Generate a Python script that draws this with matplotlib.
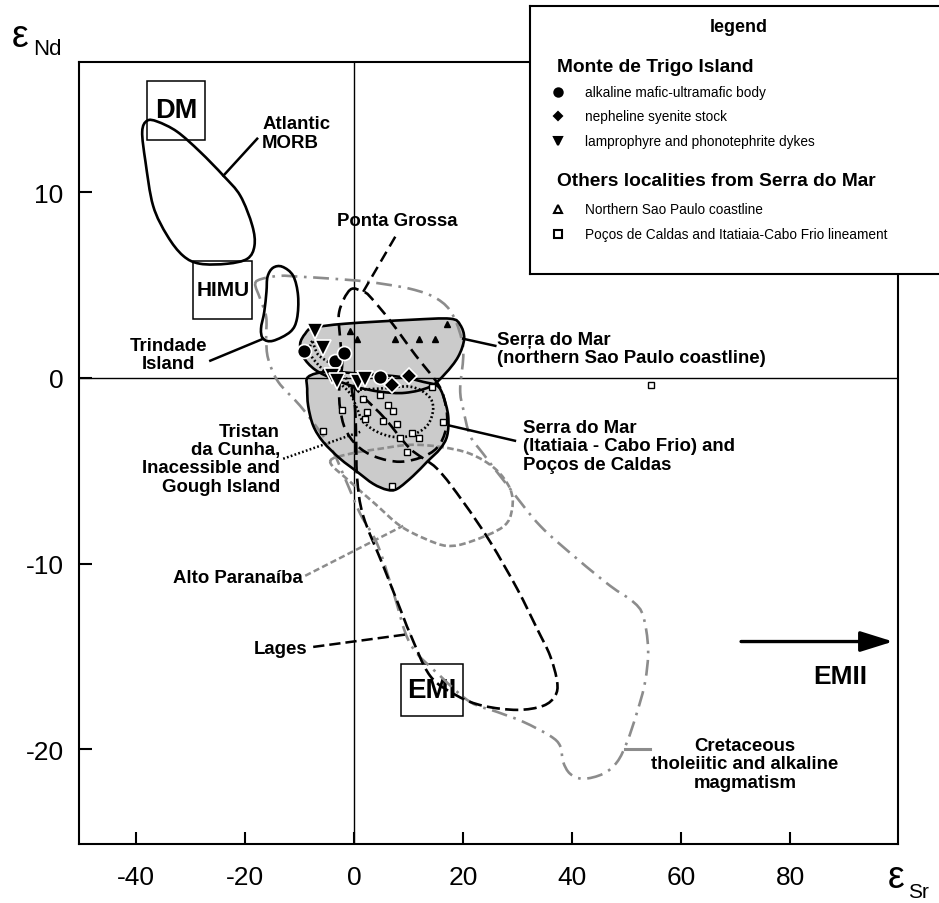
import matplotlib
matplotlib.use("Agg")
import matplotlib.pyplot as plt
import numpy as np
from matplotlib.path import Path
from matplotlib.patches import PathPatch, Rectangle

plt.rcParams['font.family'] = ['Liberation Sans', 'DejaVu Sans']
plt.rcParams['axes.unicode_minus'] = False

# field outlines (eSr, eNd)
morb = [(-38.0, 13.84), (-38.9, 13.25), (-38.3, 11.63), (-36.9, 9.26), (-34.3, 7.65),
        (-31.4, 6.57), (-28.3, 6.14), (-23.3, 6.14), (-19.6, 6.41), (-18.3, 7.11),
        (-18.7, 8.19), (-20.9, 9.80), (-24.0, 10.88), (-28.3, 12.17), (-32.5, 13.25),
        (-36.1, 13.79)]
trindade = [(-13.2, 5.98), (-11.2, 5.49), (-10.3, 4.42), (-10.5, 3.18), (-11.7, 2.48),
            (-14.9, 1.99), (-16.7, 2.10), (-17.1, 2.64), (-16.5, 3.55), (-16.1, 4.63),
            (-15.9, 5.44), (-14.9, 5.92)]
ponta_grossa = [(-0.73, 4.74), (-2.75, 3.55), (-2.57, 2.10), (-2.20, 0.75), (-2.75, -0.59),
                (-2.57, -1.67), (-1.65, -2.75), (0.55, -3.66), (3.85, -4.25), (8.44, -4.52),
                (13.03, -4.20), (15.78, -3.55), (17.06, -2.37), (16.51, -1.13), (15.23, -0.27),
                (11.19, 1.24), (6.61, 3.07), (2.94, 4.36), (1.65, 4.63)]
lages = [(-0.37, -0.48), (0.18, -1.67), (0.37, -3.55), (0.55, -5.44), (1.65, -7.43),
         (5.32, -10.12), (8.44, -12.44), (10.28, -13.79), (13.94, -16.05), (18.90, -17.12),
         (23.67, -17.66), (29.91, -17.88), (34.68, -17.66), (36.88, -17.12), (37.25, -16.37),
         (35.96, -14.97), (33.58, -13.52), (29.91, -11.36), (24.95, -8.83), (20.00, -6.68),
         (15.23, -4.90), (10.28, -3.82), (5.69, -2.21), (2.02, -1.13)]
alto_paranaiba = [(-4.40, -4.52), (-0.73, -4.09), (4.77, -3.82), (10.28, -3.61), (15.78, -3.72),
                  (21.28, -4.09), (25.87, -4.90), (28.62, -5.98), (28.99, -7.05), (27.34, -8.02),
                  (21.28, -8.83), (17.06, -9.05), (13.03, -8.67), (8.44, -7.97), (3.85, -6.79),
                  (-0.73, -5.60)]
tristan = [(-7.71, 1.94), (-6.61, 1.24), (-4.04, 0.70), (-1.65, 0.05), (-0.37, -0.59),
           (4.22, -0.59), (10.28, -0.48), (13.58, -0.97), (14.50, -1.67), (13.39, -2.58),
           (10.28, -3.12), (7.16, -3.18), (4.22, -2.91), (1.65, -2.37), (0.55, -1.67),
           (-0.73, -0.86), (-2.94, -0.22), (-5.87, 0.48), (-8.07, 1.29)]
serra_north = [(-7.52, 2.69), (-1.65, 2.91), (10.28, 3.12), (17.61, 3.18), (19.45, 2.85),
               (20.18, 2.10), (19.08, 1.13), (16.70, 0.22), (13.94, -0.48), (9.36, -0.81),
               (4.77, -0.75), (0.18, -0.48), (-3.49, -0.11), (-7.16, 0.43), (-9.36, 1.13),
               (-9.91, 1.83), (-8.99, 2.37)]
serra_itatiaia = [(-8.44, 0.05), (-4.95, 0.32), (1.10, 0.22), (8.44, 0.05), (12.66, -0.22),
                  (15.23, -0.43), (16.33, -0.97), (17.25, -2.05), (17.06, -3.12), (15.78, -3.82),
                  (13.39, -4.52), (10.83, -5.28), (7.89, -5.98), (6.06, -6.03), (3.49, -5.71),
                  (0.55, -5.06), (-2.57, -4.36), (-5.69, -3.45), (-7.52, -2.58), (-8.44, -1.51),
                  (-8.62, -0.59)]
cretaceous = [(-18.17, 5.06), (-17.25, 4.25), (-16.15, 3.28), (-16.15, 2.10), (-15.78, 1.02),
              (-13.94, -0.22), (-9.91, -1.51), (-6.24, -2.91), (-3.85, -3.98), (-1.65, -5.44),
              (1.10, -7.32), (4.22, -8.94), (7.16, -11.52), (10.28, -14.32), (15.78, -16.05),
              (21.28, -17.45), (26.24, -17.99), (31.01, -18.52), (35.96, -19.28), (37.80, -19.82),
              (38.35, -20.68), (39.63, -21.32), (42.02, -21.59), (45.69, -21.32), (48.26, -20.68),
              (50.09, -19.60), (51.93, -17.99), (53.39, -16.37), (53.94, -14.59), (53.03, -12.82),
              (51.19, -12.06), (46.97, -11.20), (40.92, -9.75), (34.13, -7.97), (28.62, -5.98),
              (23.67, -4.09), (21.28, -3.12), (20.00, -1.67), (19.45, -0.59), (20.00, 1.56),
              (18.17, 3.34), (15.23, 4.25), (10.28, 4.79), (2.39, 5.17), (-3.85, 5.33),
              (-9.91, 5.44), (-13.58, 5.49), (-16.88, 5.33)]

# samples
mafic_x = [-9.17, -3.49, -1.83, 4.77]
mafic_y = [1.45, 0.92, 1.35, 0.05]
syenite_x = [10.09, 6.97]
syenite_y = [0.11, -0.38]
dykes_x = [-7.16, -5.69, -4.04, -3.12, 0.73, 2.02]
dykes_y = [2.53, 1.62, 0.11, -0.16, -0.22, -0.05]
nsp_x = [-0.73, 0.55, 7.52, 11.93, 14.86, 17.06]
nsp_y = [2.53, 2.10, 2.10, 2.10, 2.10, 2.91]
pocos_x = [-2.20, -5.69, 2.39, 6.24, 7.16, 4.77, 5.32, 7.89, 8.44, 10.64, 11.93, 9.72,
           16.33, 14.31, 6.97, 2.02, 1.65, 54.50]
pocos_y = [-1.72, -2.85, -1.83, -1.45, -1.78, -0.92, -2.32, -2.48, -3.23, -2.96, -3.23, -3.98,
           -2.37, -0.48, -5.82, -2.21, -1.13, -0.38]

xticks = [-40, -20, 0, 20, 40, 60, 80]
yticks = [-20, -10, 0, 10]

fig = plt.figure(figsize=(9.39, 9.04), dpi=100)
ax = fig.add_axes([79 / 939, 1 - 845 / 904, 819 / 939, 782 / 904])
ax.set_xlim(-50.5, 99.8)
ax.set_ylim(-25.1, 17.0)
ax.set_xticks(xticks)
ax.set_yticks(yticks)
ax.tick_params(direction='in', length=9, width=1.5, labelsize=19)
ax.tick_params(axis='x', pad=15)
ax.tick_params(axis='y', pad=11)
for s in ax.spines.values():
    s.set_linewidth(1.5)
ax.axhline(0, color='black', lw=1.0, zorder=2)
ax.axvline(0, color='black', lw=1.0, zorder=2)


def smooth(pts):
    p = np.asarray(pts, float)
    n = len(p)
    verts = [p[0]]
    codes = [Path.MOVETO]
    for i in range(n):
        p0, p1, p2, p3 = p[i - 1], p[i], p[(i + 1) % n], p[(i + 2) % n]
        verts += [p1 + (p2 - p0) / 6, p2 - (p3 - p1) / 6, p2]
        codes += [Path.CURVE4] * 3
    return Path(verts, codes)


def outline(pts, **kw):
    ax.add_patch(PathPatch(smooth(pts), **kw))


grey = '#8c8c8c'
fill = '#cbcbcb'
lw = 1.9

outline(serra_itatiaia, facecolor=fill, edgecolor='none', zorder=1)
outline(serra_north, facecolor=fill, edgecolor='none', zorder=1)
outline(cretaceous, facecolor='none', edgecolor=grey, lw=lw, ls=(0, (6, 2.5, 1, 2.5)), zorder=3)
outline(alto_paranaiba, facecolor='none', edgecolor=grey, lw=lw, ls=(0, (2.5, 1.3)), zorder=3)
outline(morb, facecolor='none', edgecolor='black', lw=lw, zorder=3)
outline(trindade, facecolor='none', edgecolor='black', lw=lw, zorder=3)
outline(ponta_grossa, facecolor='none', edgecolor='black', lw=lw, ls=(0, (4.5, 2.5)), zorder=3)
outline(lages, facecolor='none', edgecolor='black', lw=lw, ls=(0, (5, 2)), zorder=3)
outline(tristan, facecolor='none', edgecolor='black', lw=lw, ls=(0, (0.7, 0.9)), zorder=3)
outline(serra_itatiaia, facecolor='none', edgecolor='black', lw=lw, zorder=3)
outline(serra_north, facecolor='none', edgecolor='black', lw=lw, zorder=3)

# leader lines
ax.plot([-24.0, -17.8], [10.88, 12.87], color='black', lw=1.8, zorder=3)
ax.plot([-16.7, -26.4], [2.10, 0.92], color='black', lw=1.8, zorder=3)
ax.plot([1.65, 8.07], [4.63, 7.86], color='black', lw=1.8, ls=(0, (4.5, 2.5)), zorder=3)
ax.plot([-7.52, 10.28], [-14.49, -13.79], color='black', lw=1.8, ls=(0, (4.5, 2)), zorder=3)
ax.plot([-8.99, 8.99], [-10.66, -7.97], color=grey, lw=1.8, ls=(0, (2.5, 1.3)), zorder=3)
ax.plot([-13.03, 1.10], [-4.36, -2.91], color='black', lw=1.8, ls=(0, (0.7, 0.9)), zorder=3)
ax.plot([20.0, 25.9], [2.10, 1.72], color='black', lw=1.8, zorder=3)
ax.plot([17.6, 29.5], [-2.58, -3.39], color='black', lw=1.8, zorder=3)
ax.plot([49.7, 54.3], [-19.98, -19.98], color=grey, lw=2.2, zorder=3)

# samples
ax.plot(pocos_x, pocos_y, 's', ms=4, mfc='white', mec='black', mew=1, zorder=4)
ax.plot(nsp_x, nsp_y, '^', ms=4.5, color='black', zorder=4)
ax.plot(mafic_x, mafic_y, 'o', ms=10, mfc='black', mec='white', mew=1.2, zorder=5)
ax.plot(syenite_x, syenite_y, 'D', ms=8, mfc='black', mec='white', mew=1.2, zorder=5)
ax.plot(dykes_x, dykes_y, 'v', ms=11, mfc='black', mec='white', mew=1.2, zorder=5)

# end-member boxes
boxes = [('DM', -38.0, 12.82, -27.3, 15.99, 19.5), ('HIMU', -29.5, 3.18, -18.7, 6.30, 15),
         ('EMI', 8.6, -18.20, 20.0, -15.40, 20)]
for name, x0, y0, x1, y1, fs in boxes:
    ax.add_patch(Rectangle((x0, y0), x1 - x0, y1 - y0, fill=False, ec='black', lw=1.1, zorder=2))
    ax.text((x0 + x1) / 2, (y0 + y1) / 2, name, ha='center', va='center',
            fontsize=fs, fontweight='bold', zorder=2)

lab = dict(fontsize=13.4, fontweight='bold', va='center', linespacing=1.1, zorder=4)
ax.text(-16.9, 13.17, 'Atlantic\nMORB', ha='left', **lab)
ax.text(-34.1, 1.24, 'Trindade\nIsland', ha='center', **lab)
ax.text(7.9, 8.45, 'Ponta Grossa', ha='center', **lab)
ax.text(26.2, 1.59, 'Serŗa do Mar\n(northern Sao Paulo coastline)', ha='left', **lab)
ax.text(31.0, -3.66, 'Serra do Mar\n(Itatiaia - Cabo Frio) and\nPoços de Caldas', ha='left', **lab)
ax.text(-13.6, -4.36, 'Tristan\nda Cunha,\nInacessible and\nGough Island', ha='right',
        multialignment='right', **lab)
ax.text(-9.5, -10.77, 'Alto Paranaíba', ha='right', **lab)
ax.text(-8.6, -14.6, 'Lages', ha='right', **lab)
ax.text(71.7, -20.79, 'Cretaceous\ntholeiitic and alkaline\nmagmatism', ha='center',
        multialignment='center', **lab)
ax.text(89.2, -16.05, 'EMII', ha='center', va='center', fontsize=19, fontweight='bold')
ax.annotate('', xy=(98.9, -14.2), xytext=(71.0, -14.2),
            arrowprops=dict(arrowstyle='-|>,head_length=0.8,head_width=0.25', lw=2.4,
                            color='black', mutation_scale=25, shrinkA=0, shrinkB=0))

# axis titles
fig.text(12 / 939, 1 - 47 / 904, 'ε', fontsize=27, va='baseline', ha='left')
fig.text(33 / 939, 1 - 55 / 904, 'Nd', fontsize=16, va='baseline', ha='left')
fig.text(888 / 939, 1 - 888 / 904, 'ε', fontsize=27, va='baseline', ha='left')
fig.text(908 / 939, 1 - 898 / 904, 'Sr', fontsize=15, va='baseline', ha='left')

# legend box
leg = fig.add_axes([530 / 939, 1 - 275 / 904, 0.47, 268 / 904], zorder=10)
leg.set_xlim(530, 530 + 0.47 * 939)
leg.set_ylim(275, 7)
leg.set_xticks([])
leg.set_yticks([])
for s in leg.spines.values():
    s.set_linewidth(1.5)
leg.text(739, 28, 'legend', ha='center', va='center', fontsize=13, fontweight='bold')
leg.text(557, 68, 'Monte de Trigo Island', ha='left', va='center', fontsize=13.8, fontweight='bold')
leg.text(557, 182, 'Others localities from Serra do Mar', ha='left', va='center',
         fontsize=13.8, fontweight='bold')
leg_items = [('o', 93, 'alkaline mafic-ultramafic body', 'black', 6),
             ('D', 117, 'nepheline syenite stock', 'black', 4.5),
             ('v', 142, 'lamprophyre and phonotephrite dykes', 'black', 5.5),
             ('^', 210, 'Northern Sao Paulo coastline', 'white', 6),
             ('s', 235, 'Poços de Caldas and Itatiaia-Cabo Frio lineament', 'white', 5.5)]
for m, yy, txt, fc, ms in leg_items:
    leg.plot([558], [yy], m, ms=ms, mfc=fc, mec='black', mew=1.5)
    leg.text(585, yy, txt, ha='left', va='center', fontsize=9.8)

fig.savefig('out.png', dpi=100)
